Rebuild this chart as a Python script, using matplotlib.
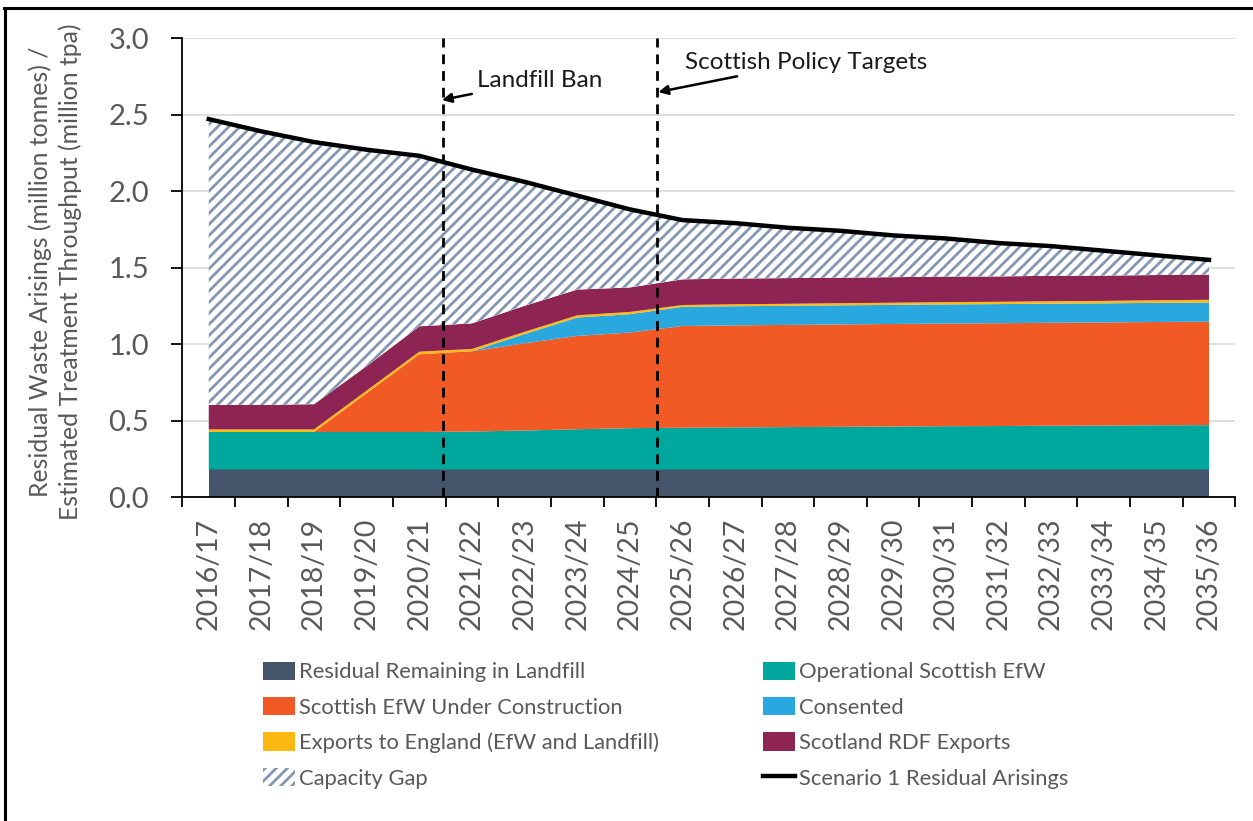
import matplotlib.pyplot as plt
import numpy as np
from matplotlib.lines import Line2D
from matplotlib.patches import Patch

plt.rcParams['font.family'] = ['Lato', 'DejaVu Sans']
plt.rcParams['hatch.linewidth'] = 2.0

# Years
years = ['2016/17', '2017/18', '2018/19', '2019/20', '2020/21', '2021/22', '2022/23',
         '2023/24', '2024/25', '2025/26', '2026/27', '2027/28', '2028/29', '2029/30',
         '2030/31', '2031/32', '2032/33', '2033/34', '2034/35', '2035/36']

# Series (million tonnes)
landfill = [0.18] * 20
operational = [0.245, 0.245, 0.245, 0.245, 0.245, 0.248, 0.255, 0.263, 0.27, 0.273,
               0.275, 0.277, 0.279, 0.281, 0.283, 0.284, 0.286, 0.287, 0.289, 0.29]
under_construction = [0, 0, 0, 0.254, 0.508, 0.525, 0.57, 0.61, 0.625, 0.665,
                      0.667, 0.668, 0.669, 0.67, 0.671, 0.672, 0.673, 0.674, 0.675, 0.676]
consented = [0, 0, 0, 0, 0, 0, 0.06, 0.12, 0.12, 0.125,
             0.125, 0.125, 0.125, 0.125, 0.125, 0.125, 0.125, 0.125, 0.125, 0.125]
exports_england = [0.017, 0.017, 0.017, 0.017, 0.017, 0.015, 0.015, 0.015, 0.015, 0.012,
                   0.013, 0.013, 0.014, 0.014, 0.015, 0.015, 0.016, 0.016, 0.017, 0.018]
rdf_exports = [0.16, 0.16, 0.165, 0.16, 0.166, 0.167, 0.17, 0.168, 0.16, 0.168,
               0.168, 0.168, 0.167, 0.167, 0.167, 0.166, 0.166, 0.165, 0.165, 0.165]
arisings = [2.47, 2.39, 2.32, 2.27, 2.23, 2.14, 2.06, 1.97, 1.88, 1.81,
            1.79, 1.76, 1.74, 1.71, 1.69, 1.66, 1.64, 1.61, 1.58, 1.55]

labels = ['Residual Remaining in Landfill', 'Operational Scottish EfW',
          'Scottish EfW Under Construction', 'Consented',
          'Exports to England (EfW and Landfill)', 'Scotland RDF Exports',
          'Capacity Gap', 'Scenario 1 Residual Arisings']
colors = ['#44546A', '#00A79D', '#F15A24', '#29A8E0', '#FDB913', '#8E2454']
hatch_color = '#8497B0'
grey = '#595959'

x = np.arange(len(years))
layers = [landfill, operational, under_construction, consented, exports_england, rdf_exports]
stack_top = np.sum(np.array(layers), axis=0)

fig = plt.figure(figsize=(12.53, 8.21), dpi=100)
ax = fig.add_axes([0.1456, 0.3946, 0.8403, 0.5591])

ax.stackplot(x, *layers, colors=colors, linewidth=0, zorder=2)
ax.fill_between(x, stack_top, arisings, facecolor='white', edgecolor=hatch_color,
                hatch='///', linewidth=0, zorder=2)
ax.plot(x, arisings, color='black', lw=3.2, zorder=3)

# policy markers
ax.axvline(4.45, color='black', ls=(0, (3.5, 2.5)), lw=2, zorder=4)
ax.axvline(8.52, color='black', ls=(0, (3.5, 2.5)), lw=2, zorder=4)
ax.annotate('Landfill Ban', xy=(4.43, 2.595), xytext=(5.1, 2.725),
            fontsize=17.5, color='#1a1a1a', va='center', ha='left',
            arrowprops=dict(arrowstyle='-|>', color='black', lw=1.8,
                            shrinkA=2, shrinkB=0, mutation_scale=14))
ax.annotate('Scottish Policy Targets', xy=(8.54, 2.647), xytext=(9.05, 2.84),
            fontsize=17.5, color='#1a1a1a', va='center', ha='left',
            arrowprops=dict(arrowstyle='-|>', color='black', lw=1.8,
                            shrinkA=2, shrinkB=0, mutation_scale=14))

ax.set_xlim(-0.5, len(years) - 0.5)
ax.set_ylim(0, 3.0)
ax.set_yticks(np.arange(0, 3.01, 0.5))
ax.set_yticklabels([f'{v:.1f}' for v in np.arange(0, 3.01, 0.5)])
ax.set_xticks(np.arange(-0.5, len(years), 1.0))
ax.set_xticklabels([])
ax.set_xticks(x, minor=True)
ax.set_xticklabels(years, minor=True, rotation=90)
ax.tick_params(axis='x', which='major', length=7, width=1.3, color='black')
ax.tick_params(axis='x', which='minor', length=0, pad=15, labelsize=20.5, labelcolor=grey)
ax.tick_params(axis='y', length=8, width=1.3, color='black', labelsize=21,
               labelcolor=grey, pad=16)
ax.grid(axis='y', color='#D9D9D9', lw=1.2, zorder=0)
ax.set_axisbelow(True)
for s in ['top', 'right']:
    ax.spines[s].set_visible(False)
for s in ['left', 'bottom']:
    ax.spines[s].set_linewidth(1.3)
    ax.spines[s].set_zorder(5)

ax.set_ylabel('Residual Waste Arisings (million tonnes) /\nEstimated Treatment Throughput (million tpa)',
              fontsize=17.8, color=grey, linespacing=1.3)
ax.yaxis.label.set_va('center')
ax.yaxis.set_label_coords(-0.121, 0.49)

handles = [Patch(facecolor=c, edgecolor='none') for c in colors]
handles.append(Patch(facecolor='white', edgecolor=hatch_color, hatch='///', linewidth=0))
handles.append(Line2D([0], [0], color='black', lw=3.2))
# legend fills column-wise: put left column items first
order = [0, 2, 4, 6, 1, 3, 5, 7]
leg = fig.legend([handles[i] for i in order], [labels[i] for i in order],
                 loc='upper left', bbox_to_anchor=(0.2099, 0.194), ncol=2,
                 frameon=False, fontsize=15.8, labelcolor=grey,
                 handlelength=1.46, handleheight=0.9, handletextpad=0.18,
                 columnspacing=4.75, labelspacing=0.67, borderpad=0, borderaxespad=0)

# chart frame (left and top edges only)
fig.add_artist(Line2D([0.004, 0.004], [0.0, 0.99], color='black', lw=2.2,
                      transform=fig.transFigure))
fig.add_artist(Line2D([0.003, 1.0], [0.99, 0.99], color='black', lw=2.2,
                      transform=fig.transFigure))

fig.savefig('out.png', dpi=100)
